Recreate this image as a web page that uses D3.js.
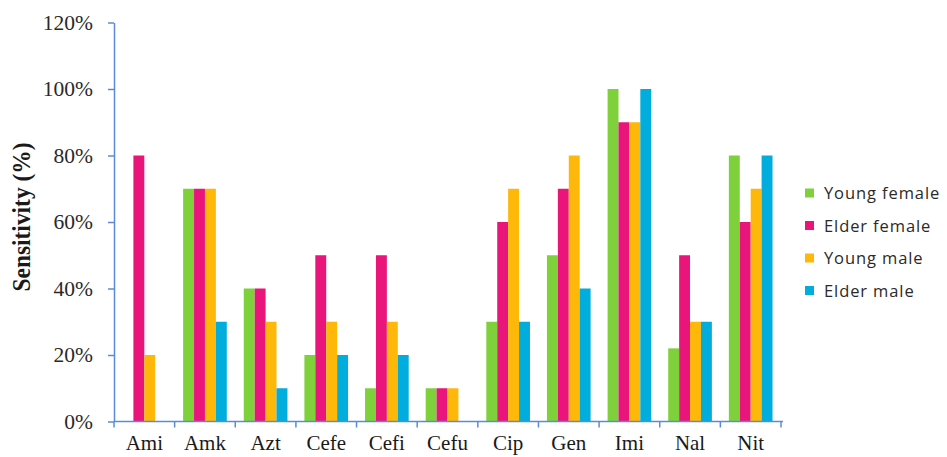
<!DOCTYPE html>
<html>
<head>
<meta charset="utf-8">
<script src="https://cdn.jsdelivr.net/npm/d3@7/dist/d3.min.js"></script>
<style>
  html, body { margin: 0; padding: 0; background: #fff; }
  svg { display: block; }
</style>
</head>
<body>
<svg id="chart" width="947" height="457"></svg>
<script>
// Antibiotic sensitivity by group
const categories = ["Ami", "Amk", "Azt", "Cefe", "Cefi", "Cefu", "Cip", "Gen", "Imi", "Nal", "Nit"];
const seriesNames = ["Young female", "Elder female", "Young male", "Elder male"];
const youngFemale = [0, 70, 40, 20, 10, 10, 30, 50, 100, 22, 80];
const elderFemale = [80, 70, 40, 50, 50, 10, 60, 70, 90, 50, 60];
const youngMale   = [20, 70, 30, 30, 30, 10, 70, 80, 90, 30, 70];
const elderMale   = [0, 30, 10, 20, 20, 0, 30, 40, 100, 30, 80];
const yTicks = [0, 20, 40, 60, 80, 100, 120];
const colors = ["#7fd13b", "#ea157a", "#feb80a", "#00addc"];

const seriesValues = [youngFemale, elderFemale, youngMale, elderMale];

const svg = d3.select("#chart");
const plotLeft = 114, plotRight = 781, plotTop = 22.5, plotBottom = 421.5;

const x = d3.scaleBand().domain(categories).range([plotLeft, plotRight]).paddingInner(0.28).paddingOuter(0.14);
const xs = d3.scaleBand().domain(seriesNames).range([0, x.bandwidth()]);
const y = d3.scaleLinear().domain([0, 120]).range([plotBottom, plotTop]);

const axisColor = "#5b8bd8";
const serif = "'Liberation Serif', 'Times New Roman', serif";

// bars
const g = svg.append("g");
seriesNames.forEach((name, si) => {
  g.selectAll(null)
    .data(categories.map((c, i) => ({ c, v: seriesValues[si][i] })))
    .enter().append("rect")
    .attr("x", d => x(d.c) + xs(name))
    .attr("width", xs.bandwidth())
    .attr("y", d => y(d.v))
    .attr("height", d => y(0) - y(d.v))
    .attr("fill", colors[si]);
});

// y axis
const yAxis = svg.append("g")
  .attr("transform", `translate(${plotLeft},0)`)
  .call(d3.axisLeft(y).tickValues(yTicks).tickFormat(d => d + "%").tickSize(6).tickPadding(15).tickSizeOuter(0));
yAxis.select(".domain").attr("stroke", axisColor).attr("stroke-width", 1.5);
yAxis.selectAll(".tick line").attr("stroke", axisColor).attr("stroke-width", 1.5);
yAxis.selectAll(".tick text").attr("fill", "#2a2a2a").style("font-family", serif).style("font-size", "21.5px");

// x axis with ticks at category boundaries
const xAxisG = svg.append("g").attr("transform", `translate(0,${plotBottom})`);
xAxisG.append("line").attr("x1", plotLeft).attr("x2", plotRight + 2).attr("y1", 0).attr("y2", 0)
  .attr("stroke", axisColor).attr("stroke-width", 1.5);
const step = x.step();
const bounds = d3.range(categories.length + 1).map(i => plotLeft + i * step);
xAxisG.selectAll(".xt").data(bounds).enter().append("line")
  .attr("x1", d => d).attr("x2", d => d).attr("y1", 0).attr("y2", 6)
  .attr("stroke", axisColor).attr("stroke-width", 1.5);
xAxisG.selectAll(".xl").data(categories).enter().append("text")
  .attr("x", d => x(d) + x.bandwidth() / 2)
  .attr("y", 28)
  .attr("text-anchor", "middle")
  .attr("fill", "#1a1a1a")
  .style("font-family", serif).style("font-size", "21px")
  .text(d => d);

// y axis title (condensed bold)
svg.append("text")
  .attr("transform", "translate(30,217) rotate(-90)")
  .attr("text-anchor", "middle")
  .attr("fill", "#1a1a1a")
  .attr("textLength", 149)
  .attr("lengthAdjust", "spacingAndGlyphs")
  .style("font-family", serif).style("font-size", "25px").style("font-weight", "bold")
  .text("Sensitivity (%)");

// legend
const legend = svg.append("g").attr("transform", "translate(805,193)");
seriesNames.forEach((name, i) => {
  const row = legend.append("g").attr("transform", `translate(0,${i * 32.5})`);
  row.append("rect").attr("x", 0).attr("y", -4.5).attr("width", 9).attr("height", 9).attr("fill", colors[i]);
  row.append("text").attr("x", 19).attr("y", 6).attr("fill", "#2a2a2a")
    .style("font-family", "'Open Sans', Lato, sans-serif").style("font-size", "16.5px")
    .style("letter-spacing", "0.9px")
    .text(name);
});
</script>
</body>
</html>
